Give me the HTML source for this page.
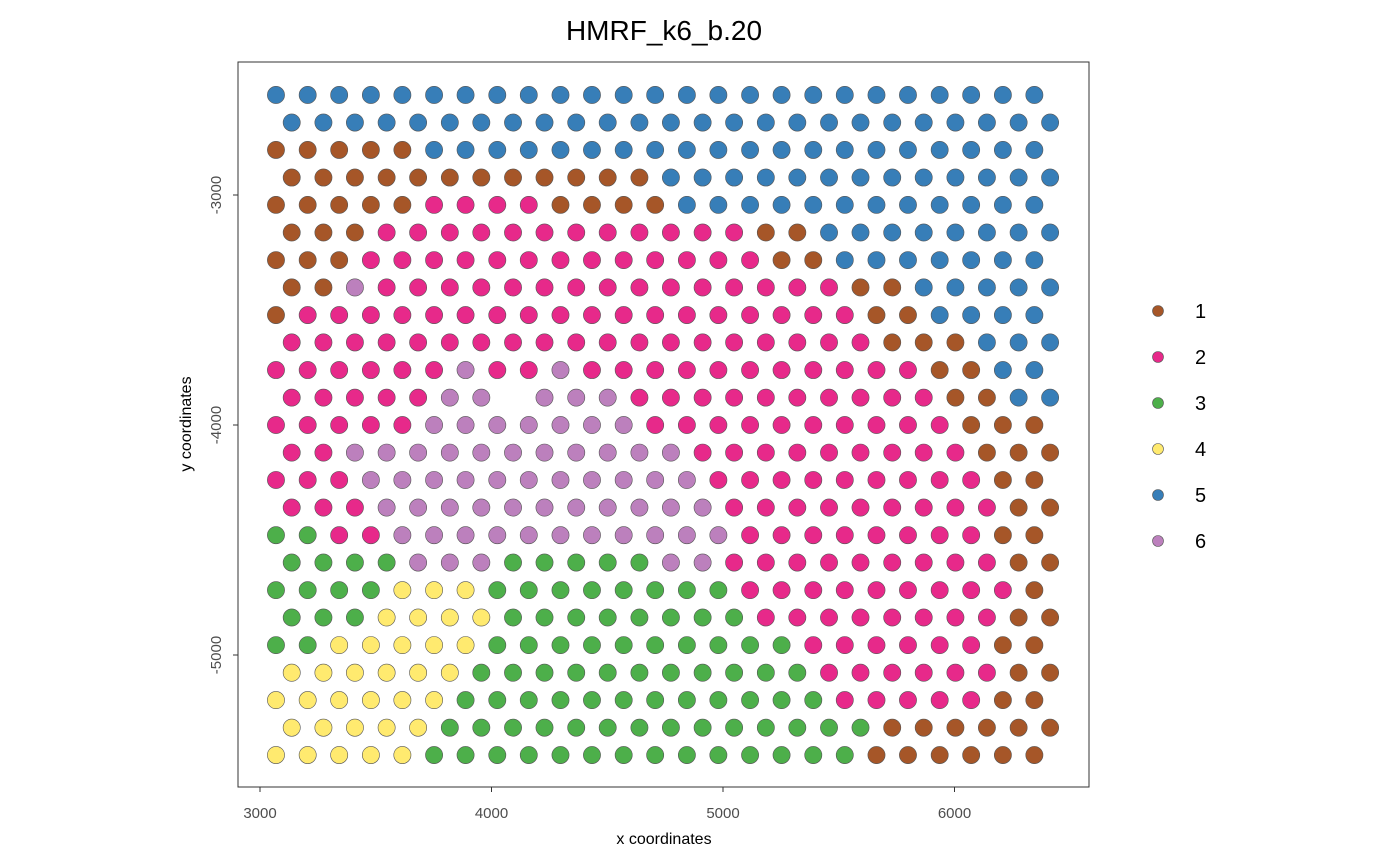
<!DOCTYPE html>
<html><head><meta charset="utf-8"><style>
body{margin:0;background:#fff;}
svg{display:block;font-family:"Liberation Sans",Arial,sans-serif;}
</style></head><body>
<svg id="chart" width="1400" height="866" viewBox="0 0 1400 866">
<text x="664" y="40" font-size="28" text-anchor="middle" fill="#000">HMRF_k6_b.20</text>
<rect x="238" y="62" width="851" height="725" fill="#fff" stroke="#333" stroke-width="1"/>
<g id="pts"></g>
<g id="axes"></g>
<text x="664" y="844" font-size="16" text-anchor="middle" fill="#000">x coordinates</text>
<text transform="translate(191,424) rotate(-90)" font-size="16" text-anchor="middle" fill="#000">y coordinates</text>
<g id="legend"></g>
</svg>
<script>
const xEven=[3069,3206,3342,3479,3615,3752,3888,4025,4161,4298,4434,4571,4707,4844,4980,5117,5253,5390,5526,5663,5799,5936,6072,6209,6345];
const xOdd=[3137,3274,3410,3547,3683,3820,3956,4093,4229,4366,4502,4639,4775,4912,5048,5185,5321,5458,5594,5731,5867,6004,6140,6277,6413];
const rowY=[-2565,-2685,-2804,-2924,-3043,-3163,-3283,-3402,-3522,-3641,-3761,-3881,-4000,-4120,-4239,-4359,-4479,-4598,-4718,-4837,-4957,-5077,-5196,-5316,-5435];
const rowClusters=[
"5555555555555555555555555",
"5555555555555555555555555",
"1111155555555555555555555",
"1111111111115555555555555",
"1111122221111555555555555",
"1112222222222221155555555",
"1112222222222222115555555",
"1162222222222222221155555",
"1222222222222222222115555",
"2222222222222222222111555",
"2222226226222222222221155",
"2222266066622222222221155",
"2222266666662222222222111",
"2266666666666222222222111",
"2226666666666622222222211",
"2226666666666622222222211",
"3322666666666662222222211",
"3333666333336622222222211",
"3333444333333332222222221",
"3334444333333332222222211",
"3344444333333333322222211",
"4444443333333333322222211",
"4444443333333333332222211",
"4444433333333333333111111",
"4444433333333333333111111"];
const legendLabels=["1","2","3","4","5","6"];
const colors={"1":"#A65628","2":"#E7298A","3":"#4DAF4A","4":"#FFEA6F","5":"#377EB8","6":"#BC80BD"};
const xTicks=[3000,4000,5000,6000];
const yTicks=[-3000,-4000,-5000];

const NS="http://www.w3.org/2000/svg";
const sx=v=>260+(v-3000)*0.2315;
const sy=v=>195+(-3000-v)*0.2300;
function mk(t,a){const e=document.createElementNS(NS,t);for(const k in a)e.setAttribute(k,a[k]);return e;}
const pts=document.getElementById('pts');
rowClusters.forEach((row,i)=>{
  const xs=i%2===0?xEven:xOdd;
  for(let j=0;j<row.length;j++){
    const c=row[j]; if(c==="0")continue;
    const p=mk('circle',{cx:sx(xs[j]),cy:sy(rowY[i]),r:8.6,fill:colors[c],stroke:"#555","stroke-width":0.6});
    
    
    pts.appendChild(p);
  }
});
const ax=document.getElementById('axes');
xTicks.forEach(v=>{
  const l=mk('line',{x1:sx(v),x2:sx(v),y1:787,y2:792,stroke:"#333"});
  
  
  ax.appendChild(l);
  const t=mk('text',{x:sx(v),y:818,"font-size":15,"text-anchor":"middle",fill:"#4d4d4d"});
  t.textContent=v;
  
  
  ax.appendChild(t);
});
yTicks.forEach(v=>{
  const l=mk('line',{x1:233,x2:238,y1:sy(v),y2:sy(v),stroke:"#333"});
  
  
  ax.appendChild(l);
  const t=mk('text',{transform:`translate(221,${sy(v)}) rotate(-90)`,"font-size":15,"text-anchor":"middle",fill:"#4d4d4d"});
  t.textContent=v;
  
  
  ax.appendChild(t);
});
const lg=document.getElementById('legend');
legendLabels.forEach((k,i)=>{
  const y=311+i*46;
  const c=mk('circle',{cx:1158,cy:y,r:5.5,fill:colors[k],stroke:"#555","stroke-width":0.6});
  
  
  lg.appendChild(c);
  const t=mk('text',{x:1195,y:y+7,"font-size":20,fill:"#000"});
  t.textContent=k;
  
  
  lg.appendChild(t);
});
</script>
</body></html>
